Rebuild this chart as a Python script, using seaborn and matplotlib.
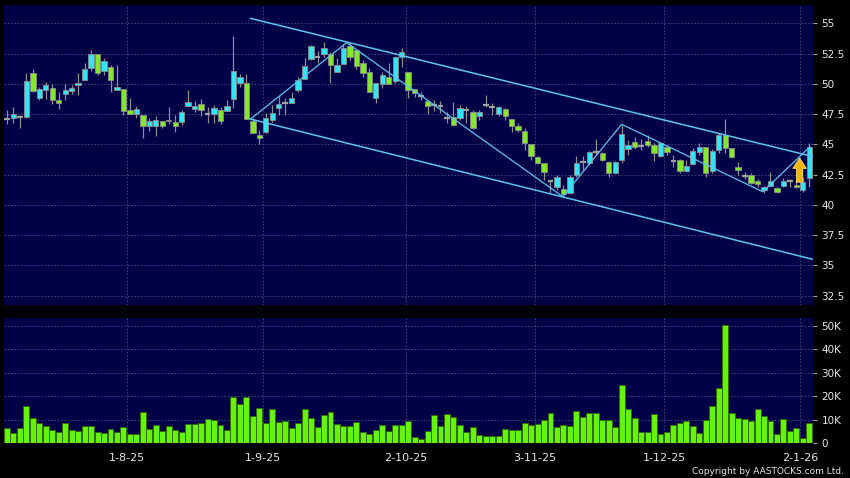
import pandas as pd
import numpy as np
import matplotlib
matplotlib.use("Agg")
import matplotlib.pyplot as plt
import seaborn as sns
from matplotlib.patches import FancyArrow

# daily candles, trading-day index 0..124 (7 Jul 2025 - 5 Jan 2026)
opens = [47.07, 47.21, 47.27, 47.27, 50.85, 48.86, 49.47, 49.69, 48.62, 49.19,
         49.44, 49.86, 50.35, 51.34, 52.50, 51.07, 51.40, 49.52, 49.58, 47.87,
         47.54, 47.38, 46.55, 46.49, 46.96, 47.00, 46.83, 46.83, 48.20, 47.95,
         48.29, 47.53, 47.51, 47.81, 47.73, 48.72, 50.04, 50.04, 46.96, 45.77,
         46.05, 47.00, 47.97, 48.40, 48.44, 49.49, 50.37, 52.02, 52.24, 52.46,
         52.46, 51.00, 51.64, 53.13, 52.79, 51.69, 51.00, 48.80, 49.98, 50.59,
         50.26, 52.24, 51.00, 49.55, 49.00, 48.61, 48.25, 48.20, 47.15, 47.29,
         47.15, 47.84, 47.70, 47.37, 48.25, 48.11, 47.51, 47.89, 47.07, 46.52,
         46.13, 45.00, 43.93, 43.43, 42.00, 41.45, 41.31, 40.96, 42.47, 43.50,
         43.43, 44.40, 44.26, 43.56, 42.65, 43.70, 44.59, 45.17, 44.86, 45.30,
         44.95, 44.04, 44.81, 43.64, 43.70, 42.80, 43.38, 44.40, 44.75, 42.82,
         44.53, 45.77, 44.67, 43.15, 42.40, 42.46, 42.00, 41.22, 41.55, 41.36,
         41.55, 41.97, 41.64, 41.22, 42.19]
highs = [47.87, 48.10, 47.40, 50.85, 51.26, 49.75, 50.16, 50.00, 49.33, 50.00,
         49.88, 50.85, 51.73, 52.83, 52.50, 52.09, 51.54, 51.54, 49.60, 48.86,
         48.15, 47.40, 47.21, 47.30, 46.96, 48.05, 47.40, 47.80, 49.52, 48.60,
         48.78, 48.06, 48.25, 48.10, 48.66, 53.95, 50.81, 50.81, 47.15, 46.18,
         47.56, 48.25, 49.00, 48.80, 49.35, 50.59, 52.10, 53.21, 52.74, 53.48,
         52.66, 52.10, 53.29, 53.40, 52.80, 51.97, 51.28, 50.09, 51.00, 51.69,
         52.20, 52.93, 51.00, 49.60, 49.35, 48.66, 48.66, 48.60, 47.70, 48.53,
         48.25, 48.17, 47.84, 47.84, 49.07, 48.39, 48.17, 47.98, 47.07, 46.73,
         46.32, 45.00, 44.04, 43.48, 42.06, 42.47, 41.64, 42.47, 44.04, 44.00,
         44.45, 45.40, 44.40, 43.60, 43.60, 46.60, 45.36, 45.63, 45.41, 45.77,
         45.08, 45.17, 44.95, 44.12, 43.77, 43.70, 44.67, 45.08, 44.78, 44.59,
         45.90, 47.07, 44.67, 43.56, 42.74, 42.60, 42.10, 41.55, 42.74, 41.50,
         42.19, 42.10, 42.05, 42.33, 45.08]
lows = [46.71, 46.77, 46.36, 47.20, 49.30, 48.70, 48.78, 48.37, 47.95, 48.64,
        49.19, 49.06, 50.35, 51.07, 50.71, 50.71, 49.33, 49.47, 47.40, 47.49,
        47.21, 45.50, 46.10, 45.70, 46.38, 46.70, 46.00, 46.58, 48.10, 47.68,
        47.32, 46.74, 46.74, 46.68, 47.73, 47.98, 49.71, 47.07, 45.90, 45.03,
        45.90, 46.87, 47.42, 47.42, 48.44, 49.35, 50.37, 51.97, 51.75, 52.24,
        50.09, 51.00, 51.64, 51.97, 51.20, 50.59, 49.35, 48.44, 49.63, 49.98,
        50.09, 51.36, 48.80, 48.90, 48.66, 47.48, 47.78, 47.60, 46.73, 46.52,
        47.01, 46.73, 46.25, 47.01, 48.05, 47.42, 47.34, 46.98, 46.04, 46.04,
        44.54, 43.70, 43.37, 42.06, 40.99, 41.23, 40.56, 40.96, 42.28, 42.90,
        43.30, 44.10, 43.60, 42.30, 42.60, 43.43, 44.12, 44.59, 44.53, 44.81,
        43.66, 43.97, 44.12, 43.10, 42.60, 42.74, 43.30, 44.12, 42.33, 42.60,
        44.32, 44.26, 43.85, 42.50, 42.17, 41.72, 41.50, 41.00, 41.50, 40.97,
        41.44, 41.44, 41.36, 41.08, 41.44]
closes = [47.07, 47.49, 47.27, 50.24, 49.41, 49.55, 49.86, 48.62, 48.45, 49.52,
          49.69, 50.08, 51.26, 52.50, 50.93, 51.89, 50.35, 49.75, 47.73, 47.54,
          47.95, 46.49, 46.93, 46.99, 46.55, 46.90, 46.55, 47.65, 48.53, 48.20,
          47.87, 47.53, 47.98, 46.96, 48.17, 51.06, 50.54, 47.07, 45.96, 45.50,
          47.15, 47.56, 48.30, 48.40, 48.80, 50.31, 51.47, 53.13, 52.24, 52.93,
          51.55, 51.55, 52.93, 52.19, 51.47, 50.92, 49.35, 50.04, 50.73, 49.98,
          52.19, 52.66, 49.49, 49.22, 49.00, 48.19, 48.25, 48.20, 47.15, 46.60,
          47.98, 47.84, 46.33, 47.70, 48.25, 48.11, 48.06, 47.34, 46.52, 46.19,
          45.09, 44.04, 43.43, 42.72, 42.00, 42.28, 40.90, 42.28, 43.48, 43.50,
          44.39, 44.40, 43.70, 42.60, 43.50, 45.85, 44.95, 44.81, 44.86, 44.95,
          44.26, 45.08, 44.40, 43.64, 42.82, 43.21, 44.43, 44.75, 42.60, 44.48,
          45.77, 44.67, 43.92, 42.88, 42.40, 41.77, 41.72, 41.50, 41.97, 41.08,
          41.97, 41.97, 41.44, 41.91, 44.75]
volume_k = [6.4, 4.4, 6.4, 16.0, 10.8, 8.8, 7.2, 5.7, 4.8, 8.7,
            5.7, 5.2, 7.5, 7.2, 4.7, 4.4, 6.1, 4.8, 7.1, 4.0,
            4.1, 13.2, 6.1, 7.8, 5.2, 7.2, 5.7, 4.8, 8.4, 8.1,
            8.8, 10.4, 9.8, 7.7, 5.5, 19.9, 16.6, 19.6, 11.8, 15.0,
            8.8, 14.5, 8.9, 9.6, 6.7, 8.5, 14.5, 10.6, 7.1, 12.2,
            13.5, 8.1, 7.4, 7.2, 9.1, 4.7, 4.0, 5.5, 7.7, 5.2,
            7.7, 7.9, 9.5, 2.8, 1.8, 5.4, 12.2, 7.2, 12.3, 11.2,
            7.9, 4.7, 6.8, 3.7, 3.0, 3.0, 3.1, 6.0, 5.7, 5.7,
            8.7, 7.7, 8.4, 9.9, 13.0, 7.0, 7.8, 7.2, 13.8, 11.2,
            13.0, 13.0, 9.8, 9.9, 6.8, 24.8, 14.8, 10.8, 4.8, 4.8,
            12.3, 3.8, 4.7, 7.7, 8.8, 9.6, 7.5, 4.5, 10.1, 15.9,
            23.7, 50.4, 12.9, 10.8, 10.4, 9.4, 14.5, 11.8, 9.5, 4.0,
            10.4, 5.4, 6.7, 2.4, 8.8]

date_labels = ["1-8-25", "1-9-25", "2-10-25", "3-11-25", "1-12-25", "2-1-26"]
date_pos = [19, 40, 62, 82, 102, 123]
price_ticks = [32.5, 35, 37.5, 40, 42.5, 45, 47.5, 50, 52.5, 55]
vol_ticks = [0, 10, 20, 30, 40, 50]

# drawn trend lines (index, price)
upper_x, upper_y = [37.6, 124.6], [55.41, 43.98]
lower_x, lower_y = [37.6, 124.5], [47.09, 35.50]
zig_x = [37.6, 52.5, 85.9, 95.0, 116.8, 124.1]
zig_y = [47.07, 53.40, 40.67, 46.65, 41.08, 44.80]
arrow_x, arrow_y0, arrow_y1 = 122.5, 41.87, 43.86

df = pd.DataFrame({"open": opens, "high": highs, "low": lows,
                   "close": closes, "vol": volume_k})
df["idx"] = np.arange(len(df))

NAVY = "#000046"
CYAN = "#33e5f2"
GREEN = "#84e82a"
GRID = "#4c4c86"
LINE = "#5cc5f0"
TXT = "#e6e6e6"

sns.set_theme(style="dark", rc={"figure.facecolor": "black",
                                "axes.facecolor": NAVY})
plt.rcParams["font.family"] = ["DejaVu Sans"]

fig = plt.figure(figsize=(8.5, 4.78), dpi=100)
ax1 = fig.add_axes([4/850, 1-305/478, 809/850, 300/478])
ax2 = fig.add_axes([4/850, 1-443.3/478, 809/850, 125/478])

xlim = (-0.46, 124.57)

# ---- candles
ax1.vlines(df["idx"], df["low"], df["high"], color="#8f8f8f", lw=0.9, zorder=2)
up = df[df["close"] > df["open"]]
dn = df[df["close"] < df["open"]]
dj = df[df["close"] == df["open"]]
ax1.bar(up["idx"], up["close"] - up["open"], bottom=up["open"], width=0.82,
        color=CYAN, edgecolor="#8c8c8c", linewidth=0.6, zorder=3)
ax1.bar(dn["idx"], dn["open"] - dn["close"], bottom=dn["close"], width=0.82,
        color=GREEN, edgecolor="#8c8c8c", linewidth=0.6, zorder=3)
ax1.hlines(dj["open"], dj["idx"] - 0.45, dj["idx"] + 0.45, color="#a0a0a0",
           lw=1.6, zorder=3)

# trend lines
ax1.plot(upper_x, upper_y, color=LINE, lw=1.1, zorder=4)
ax1.plot(lower_x, lower_y, color=LINE, lw=1.1, zorder=4)
sns.lineplot(x=zig_x, y=zig_y, color=LINE, lw=0.9, ax=ax1, zorder=4)

ax1.add_patch(FancyArrow(arrow_x, arrow_y0, 0, arrow_y1 - arrow_y0,
                         width=0.95, head_width=2.1, head_length=0.85,
                         length_includes_head=True, color="#f2b705",
                         ec="#ffe27a", lw=0.6, zorder=5))

ax1.set_xlim(*xlim)
ax1.set_ylim(31.72, 56.51)
ax1.set_yticks(price_ticks)
ax1.set_yticklabels([f"{t:g}" for t in price_ticks])
ax1.set_xticks([p - 0.4 for p in date_pos])
ax1.set_xticklabels([])
ax1.tick_params(axis="x", length=0)

# ---- volume
sns.barplot(x=df["idx"], y=df["vol"], native_scale=True, width=0.92,
            color="#66f20a", saturation=1, edgecolor="#2d6b00", linewidth=0.7,
            errorbar=None, ax=ax2, zorder=3)
ax2.set_xlim(*xlim)
ax2.set_ylim(0, 53.2)
ax2.set_yticks(vol_ticks)
ax2.set_yticklabels([f"{t}K" if t else "0" for t in vol_ticks])
ax2.set_xticks([p - 0.4 for p in date_pos])
ax2.set_xticklabels(date_labels)
ax2.set_xlabel("")
ax2.set_ylabel("")

for ax in (ax1, ax2):
    ax.set_facecolor(NAVY)
    ax.yaxis.tick_right()
    ax.tick_params(axis="y", colors="#a0a0a0", labelcolor=TXT, labelsize=7.5,
                   length=3, width=0.8, pad=3, direction="out")
    ax.tick_params(axis="x", colors="#a0a0a0", labelcolor=TXT, labelsize=8,
                   width=0.8, pad=4)
    ax.grid(True, color=GRID, lw=0.6, ls=(0, (2, 2)))
    ax.set_axisbelow(True)
    for s in ax.spines.values():
        s.set_visible(False)
ax2.tick_params(axis="x", length=3)

fig.text(844/850, 1-471/478, "Copyright by AASTOCKS.com Ltd.", color=TXT,
         fontsize=6.5, ha="right", va="center")

fig.savefig("out.png", dpi=100, facecolor="black")
